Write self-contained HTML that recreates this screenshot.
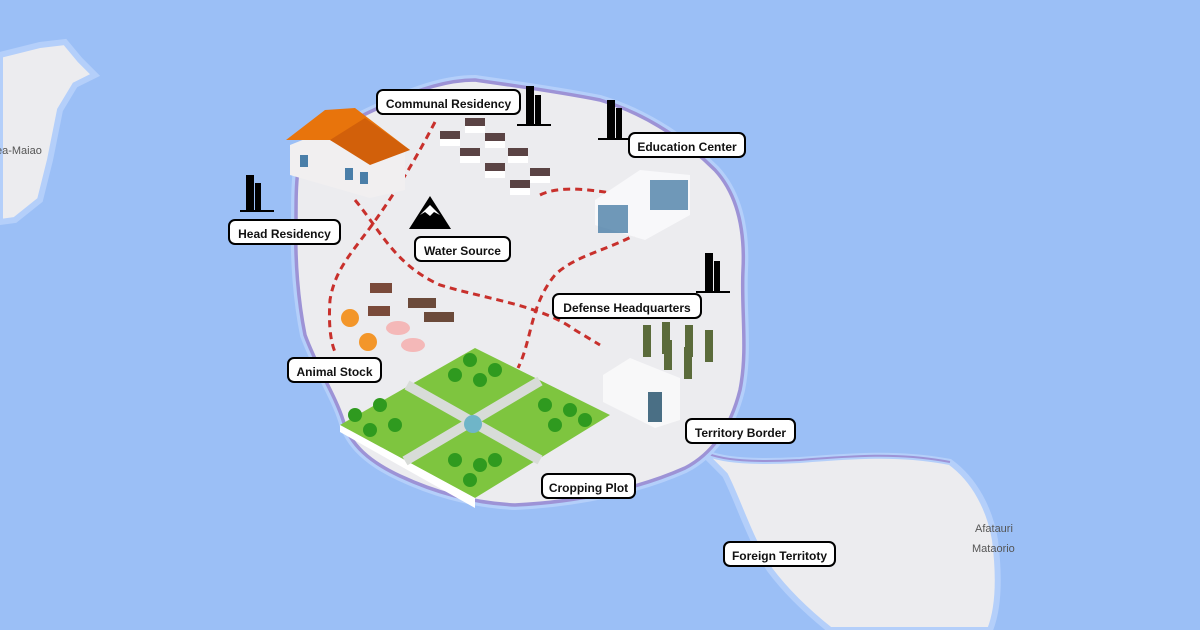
<!DOCTYPE html>
<html><head><meta charset="utf-8"><style>
html,body{margin:0;padding:0;width:1200px;height:630px;overflow:hidden;background:#9bbff6;font-family:"Liberation Sans",sans-serif}
.l{position:absolute;background:#fff;border:2px solid #000;border-radius:7px;font-weight:bold;font-size:12px;color:#111;height:26px;line-height:26px;text-align:center;box-sizing:border-box}
</style></head><body>
<svg width="1200" height="630" style="position:absolute;left:0;top:0">
<!-- left island -->
<path d="M0,55 L40,45 L65,42 L80,60 L95,75 L75,85 L60,110 L50,160 L40,200 L15,220 L0,222 Z" fill="#ececef" stroke="#b4cffa" stroke-width="6"/>
<text x="-4" y="154" font-size="11" fill="#555" font-family="Liberation Sans">ea-Maiao</text>
<!-- right peninsula -->
<path d="M700,450 C720,462 760,462 800,460 C850,456 900,452 950,462 C975,480 990,510 995,540 C1000,580 998,610 990,630 L830,630 C805,610 785,590 770,570 C750,540 738,500 725,475 Z" fill="#ececef" stroke="#b4cffa" stroke-width="6"/>
<path d="M700,450 C720,462 760,462 800,460 C850,456 900,452 950,462" fill="none" stroke="#9d93d6" stroke-width="2"/>
<text x="975" y="532" font-size="11" fill="#555" font-family="Liberation Sans">Afatauri</text>
<text x="972" y="552" font-size="11" fill="#555" font-family="Liberation Sans">Mataorio</text>
<!-- main island -->
<path d="M298,170 C305,145 340,125 385,105 C420,88 450,80 475,80 C510,85 560,92 600,100 C650,115 690,145 715,170 C738,195 745,230 743,270 C741,310 748,350 740,390 C730,430 710,455 685,468 C640,488 580,502 515,505 C470,503 430,490 400,476 C370,462 350,445 343,420 C335,395 318,370 305,335 C298,300 295,260 296,225 C296,200 296,185 298,170 Z" fill="#ececef" stroke="#b4cffa" stroke-width="10"/>
<path d="M298,170 C305,145 340,125 385,105 C420,88 450,80 475,80 C510,85 560,92 600,100 C650,115 690,145 715,170 C738,195 745,230 743,270 C741,310 748,350 740,390 C730,430 710,455 685,468 C640,488 580,502 515,505 C470,503 430,490 400,476 C370,462 350,445 343,420 C335,395 318,370 305,335 C298,300 295,260 296,225 C296,200 296,185 298,170 Z" fill="#ececef" stroke="#9d93d6" stroke-width="3.5"/>
<g fill="none" stroke="#c8302c" stroke-width="3" stroke-dasharray="7,5">
<path d="M435,122 C410,170 390,200 372,225 C350,255 335,270 330,300 C328,330 332,345 335,352"/>
<path d="M355,200 C380,230 395,265 440,285 C490,300 540,305 575,330 L600,345"/>
<path d="M540,195 C560,185 590,190 612,193"/>
<path d="M640,232 C610,250 575,255 555,275 C530,305 532,340 518,368"/>
</g>
<!-- towers -->
<g fill="#000">
<rect x="246" y="175" width="8" height="37"/><rect x="255" y="183" width="6" height="29"/><rect x="240" y="210" width="34" height="2"/>
<rect x="526" y="86" width="8" height="38"/><rect x="535" y="95" width="6" height="29"/><rect x="517" y="124" width="34" height="2"/>
<rect x="607" y="100" width="8" height="38"/><rect x="616" y="108" width="6" height="30"/><rect x="598" y="138" width="34" height="2"/>
<rect x="705" y="253" width="8" height="38"/><rect x="714" y="261" width="6" height="30"/><rect x="696" y="291" width="34" height="2"/>
</g>
<!-- mountain -->
<path d="M409,229 L430,196 L451,229 Z" fill="#000"/><path d="M420,215 L430,205 L440,215 L434,212 L430,216 L425,212 Z" fill="#fff"/>
<!-- house -->
<polygon points="290,145 340,125 405,150 405,190 370,198 290,175" fill="#f1eff0"/>
<polygon points="286,140 325,110 355,108 410,150 365,160 330,140" fill="#e8740c"/>
<polygon points="330,140 365,118 410,150 370,165" fill="#d2600a"/>
<rect x="300" y="155" width="8" height="12" fill="#4a7ea8"/><rect x="345" y="168" width="8" height="12" fill="#4a7ea8"/><rect x="360" y="172" width="8" height="12" fill="#4a7ea8"/>
<!-- residencies -->
<g>
<g fill="#fff"><rect x="440" y="138" width="20" height="8"/><rect x="465" y="125" width="20" height="8"/><rect x="485" y="140" width="20" height="8"/><rect x="460" y="155" width="20" height="8"/><rect x="508" y="155" width="20" height="8"/><rect x="485" y="170" width="20" height="8"/><rect x="530" y="175" width="20" height="8"/><rect x="510" y="187" width="20" height="8"/></g>
<g fill="#5a4344"><rect x="440" y="131" width="20" height="8"/><rect x="465" y="118" width="20" height="8"/><rect x="485" y="133" width="20" height="8"/><rect x="460" y="148" width="20" height="8"/><rect x="508" y="148" width="20" height="8"/><rect x="485" y="163" width="20" height="8"/><rect x="530" y="168" width="20" height="8"/><rect x="510" y="180" width="20" height="8"/></g>
</g>
<!-- education -->
<polygon points="595,200 640,170 690,175 690,215 645,240 595,225" fill="#f8f8fa"/>
<rect x="598" y="205" width="30" height="28" fill="#4c7fa8" opacity=".8"/><rect x="650" y="180" width="38" height="30" fill="#4c7fa8" opacity=".8"/>
<!-- animals -->
<g>
<circle cx="350" cy="318" r="9" fill="#f3962a"/><circle cx="368" cy="342" r="9" fill="#f3962a"/>
<rect x="370" y="283" width="22" height="10" fill="#7a4a3a"/><rect x="368" y="306" width="22" height="10" fill="#7a4a3a"/>
<ellipse cx="398" cy="328" rx="12" ry="7" fill="#f4b8b8"/><ellipse cx="413" cy="345" rx="12" ry="7" fill="#f4b8b8"/>
<rect x="408" y="298" width="28" height="10" fill="#6b4a3a"/><rect x="424" y="312" width="30" height="10" fill="#6b4a3a"/>
</g>
<!-- farm -->
<polygon points="340,425 475,348 610,415 475,498" fill="#7ec53f"/>
<polygon points="340,425 475,498 475,508 340,432" fill="#fff"/>
<path d="M407,385 L540,460 M405,461 L540,381" stroke="#d8dcd8" stroke-width="10"/>
<circle cx="473" cy="424" r="9" fill="#6fb5c8"/>
<g fill="#2f9a1f">
<circle cx="470" cy="360" r="7"/><circle cx="495" cy="370" r="7"/><circle cx="455" cy="375" r="7"/><circle cx="480" cy="380" r="7"/>
<circle cx="380" cy="405" r="7"/><circle cx="355" cy="415" r="7"/><circle cx="395" cy="425" r="7"/><circle cx="370" cy="430" r="7"/>
<circle cx="545" cy="405" r="7"/><circle cx="570" cy="410" r="7"/><circle cx="585" cy="420" r="7"/><circle cx="555" cy="425" r="7"/>
<circle cx="455" cy="460" r="7"/><circle cx="480" cy="465" r="7"/><circle cx="495" cy="460" r="7"/><circle cx="470" cy="480" r="7"/>
</g>
<!-- soldiers -->
<g fill="#5b6b3b"><rect x="643" y="325" width="8" height="32"/><rect x="662" y="322" width="8" height="32"/><rect x="685" y="325" width="8" height="32"/><rect x="705" y="330" width="8" height="32"/><rect x="664" y="340" width="8" height="30"/><rect x="684" y="347" width="8" height="32"/></g>
<!-- hangar -->
<polygon points="603,375 630,358 680,378 680,420 655,428 603,402" fill="#f8f8f9"/>
<rect x="648" y="392" width="14" height="30" fill="#4a6f85"/>
</svg>
<div class="l" style="left:376px;top:89px;width:145px">Communal Residency</div>
<div class="l" style="left:628px;top:132px;width:118px">Education Center</div>
<div class="l" style="left:228px;top:219px;width:113px">Head Residency</div>
<div class="l" style="left:414px;top:236px;width:97px">Water Source</div>
<div class="l" style="left:552px;top:293px;width:150px">Defense Headquarters</div>
<div class="l" style="left:287px;top:357px;width:95px">Animal Stock</div>
<div class="l" style="left:685px;top:418px;width:111px">Territory Border</div>
<div class="l" style="left:541px;top:473px;width:95px">Cropping Plot</div>
<div class="l" style="left:723px;top:541px;width:113px">Foreign Territoty</div>
</body></html>
